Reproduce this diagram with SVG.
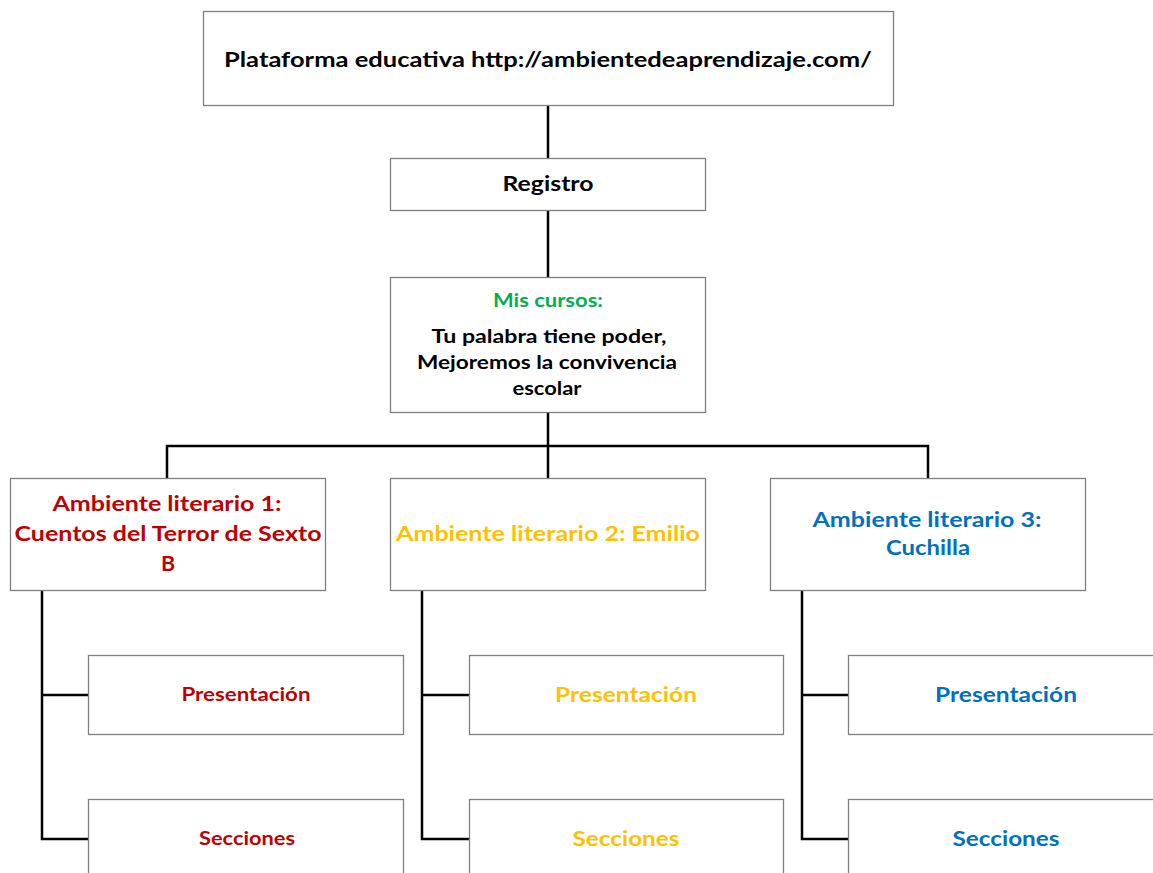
<svg xmlns="http://www.w3.org/2000/svg" width="1153" height="873" viewBox="0 0 1153 873">
<style>
.box{fill:#fff;stroke:#7f7f7f;stroke-width:1.3}
.t{font-family:Lato,"Open Sans","Liberation Sans",sans-serif;font-weight:bold;text-anchor:middle}
.blk{fill:#000}
.red{fill:#C00000}
.gold{fill:#FFC000}
.blue{fill:#0070C0}
.green{fill:#00B050}
.c{fill:none;stroke:#000;stroke-width:2.5}
</style>
<rect width="1153" height="873" fill="#fff"/>
<g id="connectors">
<path class="c" d="M548 105V158M548 210V277M548 412V478M167 478V446H928V478"/>
<path class="c" d="M42 590V839H88M42 695H88"/>
<path class="c" d="M422 590V839H469M422 695H469"/>
<path class="c" d="M802 590V839H848M802 695H848"/>
</g>
<g id="plataforma">
<rect class="box" x="203.5" y="11.5" width="690" height="94"/>
<text class="t blk" x="548" y="66.5" font-size="21.5" textLength="648" lengthAdjust="spacingAndGlyphs">Plataforma educativa http://ambientedeaprendizaje.com/</text>
</g>
<g id="registro">
<rect class="box" x="390.5" y="158.5" width="315" height="52"/>
<text class="t blk" x="548" y="191" font-size="21" textLength="91" lengthAdjust="spacingAndGlyphs">Registro</text>
</g>
<g id="miscursos">
<rect class="box" x="390.5" y="277.5" width="315" height="135"/>
<text class="t green" x="548" y="306.5" font-size="18.5" textLength="110" lengthAdjust="spacingAndGlyphs">Mis cursos:</text>
<text class="t blk" x="549" y="343" font-size="19" textLength="235" lengthAdjust="spacingAndGlyphs">Tu palabra tiene poder,</text>
<text class="t blk" x="547" y="369" font-size="19" textLength="260" lengthAdjust="spacingAndGlyphs">Mejoremos la convivencia</text>
<text class="t blk" x="547" y="395" font-size="19" textLength="69" lengthAdjust="spacingAndGlyphs">escolar</text>
</g>
<g id="ambiente1">
<rect class="box" x="10.5" y="478.5" width="315" height="112"/>
<text class="t red" x="167" y="511" font-size="21.5" textLength="229" lengthAdjust="spacingAndGlyphs">Ambiente literario 1:</text>
<text class="t red" x="168" y="541" font-size="21.5" textLength="307" lengthAdjust="spacingAndGlyphs">Cuentos del Terror de Sexto</text>
<text class="t red" x="168" y="571" font-size="21.5">B</text>
</g>
<g id="ambiente2">
<rect class="box" x="390.5" y="478.5" width="315" height="112"/>
<text class="t gold" x="548" y="541" font-size="21.5" textLength="304" lengthAdjust="spacingAndGlyphs">Ambiente literario 2: Emilio</text>
</g>
<g id="ambiente3">
<rect class="box" x="770.5" y="478.5" width="315" height="112"/>
<text class="t blue" x="927" y="527" font-size="21.5" textLength="229" lengthAdjust="spacingAndGlyphs">Ambiente literario 3:</text>
<text class="t blue" x="928" y="555" font-size="21.5" textLength="84" lengthAdjust="spacingAndGlyphs">Cuchilla</text>
</g>
<g id="presentacion1">
<rect class="box" x="88.5" y="655.5" width="315" height="79"/>
<text class="t red" x="246" y="701" font-size="18.5" textLength="129" lengthAdjust="spacingAndGlyphs">Presentación</text>
</g>
<g id="secciones1">
<rect class="box" x="88.5" y="799.5" width="315" height="90"/>
<text class="t red" x="247" y="845" font-size="18.5" textLength="96" lengthAdjust="spacingAndGlyphs">Secciones</text>
</g>
<g id="presentacion2">
<rect class="box" x="469.5" y="655.5" width="314" height="79"/>
<text class="t gold" x="626" y="702" font-size="21.5" textLength="142" lengthAdjust="spacingAndGlyphs">Presentación</text>
</g>
<g id="secciones2">
<rect class="box" x="469.5" y="799.5" width="314" height="90"/>
<text class="t gold" x="626" y="846" font-size="21.5" textLength="107" lengthAdjust="spacingAndGlyphs">Secciones</text>
</g>
<g id="presentacion3">
<rect class="box" x="848.5" y="655.5" width="314" height="79"/>
<text class="t blue" x="1006" y="702" font-size="21.5" textLength="142" lengthAdjust="spacingAndGlyphs">Presentación</text>
</g>
<g id="secciones3">
<rect class="box" x="848.5" y="799.5" width="314" height="90"/>
<text class="t blue" x="1006" y="846" font-size="21.5" textLength="107" lengthAdjust="spacingAndGlyphs">Secciones</text>
</g>
</svg>
